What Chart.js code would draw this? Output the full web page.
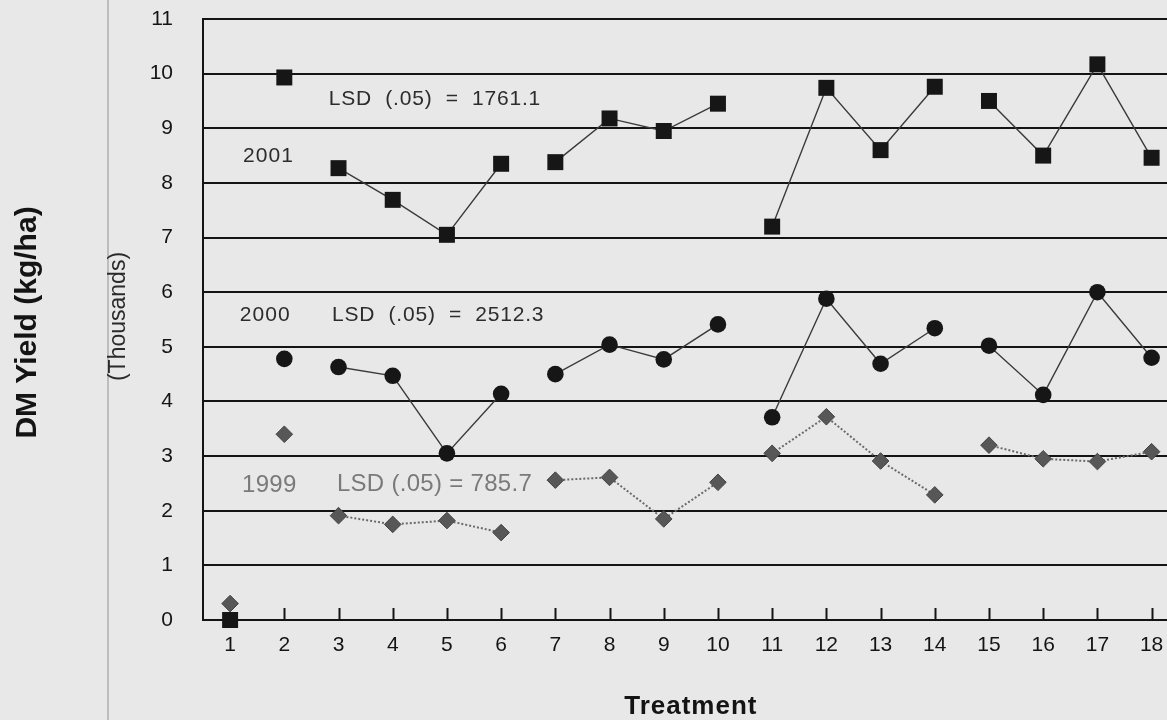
<!DOCTYPE html>
<html>
<head>
<meta charset="utf-8">
<title>DM Yield by Treatment</title>
<script src="https://cdn.jsdelivr.net/npm/chart.js@4.4.1/dist/chart.umd.min.js"></script>
<style>
  html, body { margin: 0; padding: 0; background: #e8e8e8; overflow: hidden; }
  #wrap { width: 1167px; height: 720px; overflow: hidden; }
  canvas { display: block; }
</style>
</head>
<body>
<div id="wrap"><canvas id="chart" width="1190" height="720"></canvas></div>
<script>
// Treatments along the x axis
const treatments = ['1','2','3','4','5','6','7','8','9','10','11','12','13','14','15','16','17','18'];

// Dry-matter yield, thousands of kg/ha
const yield2001 = [0, 9.93, 8.27, 7.69, 7.05, 8.35, 8.38, 9.18, 8.95, 9.45, 7.2, 9.74, 8.6, 9.76, 9.5, 8.5, 10.17, 8.46];
const yield2000 = [null, 4.78, 4.63, 4.47, 3.05, 4.14, 4.5, 5.04, 4.77, 5.41, 3.71, 5.88, 4.69, 5.34, 5.02, 4.12, 6.0, 4.8];
const yield1999 = [0.3, 3.4, 1.91, 1.75, 1.82, 1.6, 2.56, 2.61, 1.85, 2.52, 3.05, 3.72, 2.91, 2.29, 3.2, 2.95, 2.9, 3.08];

// Treatments sharing a block number are joined by a line
const trialBlock = [1, 2, 3, 3, 3, 3, 4, 4, 4, 4, 5, 5, 5, 5, 6, 6, 6, 6];

// Value axis ticks (thousands)
const yTicks = [0, 1, 2, 3, 4, 5, 6, 7, 8, 9, 10, 11];

// Year and LSD notes inside the plot
const noteText = ['2001', 'LSD  (.05)  =  1761.1', '2000', 'LSD  (.05)  =  2512.3', '1999', 'LSD (.05) = 785.7'];

const FONT = "'Liberation Sans', Arial, Helvetica, sans-serif";
const INK = '#141414';

// anchors of the notes, in treatment / value units
const noteAnchor = [[1.24, 8.48], [2.82, 9.54], [1.18, 5.57], [2.88, 5.57], [1.22, 2.47], [2.97, 2.49]];
const noteStyle = [
  { size: 21, color: '#2c2c2c', spacing: 1 },
  { size: 21, color: '#2c2c2c', spacing: 0.8 },
  { size: 21, color: '#2c2c2c', spacing: 1 },
  { size: 21, color: '#2c2c2c', spacing: 0.8 },
  { size: 24, color: '#7a7a7a', spacing: 0.3 },
  { size: 24, color: '#7a7a7a', spacing: 0.3 }
];

const joined = c => trialBlock[c.p0DataIndex] === trialBlock[c.p1DataIndex];
const hideBreaks = c => joined(c) ? undefined : 'rgba(0,0,0,0)';

const decor = {
  id: 'decor',
  beforeDraw(chart) {
    const ctx = chart.ctx;
    ctx.save();
    ctx.fillStyle = '#e8e8e8';
    ctx.fillRect(0, 0, chart.width, chart.height);
    // page edge line at the left of the sheet
    ctx.strokeStyle = '#bdbdbd';
    ctx.lineWidth = 2;
    ctx.beginPath();
    ctx.moveTo(108, 0);
    ctx.lineTo(108, chart.height);
    ctx.stroke();
    ctx.restore();
  },
  beforeDatasetsDraw(chart) {
    // short inward tick marks on the treatment axis
    const { ctx, chartArea, scales: { x } } = chart;
    ctx.save();
    ctx.strokeStyle = INK;
    ctx.lineWidth = 2;
    ctx.beginPath();
    for (let i = 1; i < treatments.length; i++) {
      const px = Math.round(x.getPixelForValue(i)) + 0.5;
      ctx.moveTo(px, chartArea.bottom);
      ctx.lineTo(px, chartArea.bottom - 12);
    }
    ctx.stroke();
    ctx.restore();
  },
  afterDraw(chart) {
    const { ctx, chartArea, scales: { x, y } } = chart;
    const x0 = x.getPixelForValue(0);
    const step = x.getPixelForValue(1) - x0;
    ctx.save();
    ctx.textAlign = 'left';
    ctx.textBaseline = 'middle';
    noteText.forEach((t, i) => {
      const s = noteStyle[i];
      const [tx, v] = noteAnchor[i];
      ctx.font = `${s.size}px ${FONT}`;
      ctx.fillStyle = s.color;
      ctx.letterSpacing = s.spacing + 'px';
      ctx.fillText(t, x0 + (tx - 1) * step, y.getPixelForValue(v));
    });
    ctx.letterSpacing = '0px';

    // axis titles
    const midY = (chartArea.top + chartArea.bottom) / 2;
    ctx.fillStyle = INK;
    ctx.textAlign = 'center';
    ctx.save();
    ctx.translate(28, midY + 3);
    ctx.rotate(-Math.PI / 2);
    ctx.font = `bold 30px ${FONT}`;
    ctx.fillText('DM Yield (kg/ha)', 0, 0);
    ctx.restore();

    ctx.save();
    ctx.translate(119, midY - 3);
    ctx.rotate(-Math.PI / 2);
    ctx.font = `23px ${FONT}`;
    ctx.fillStyle = '#2a2a2a';
    ctx.fillText('(Thousands)', 0, 0);
    ctx.restore();

    ctx.font = `bold 26px ${FONT}`;
    ctx.letterSpacing = '1px';
    ctx.fillText('Treatment', (chartArea.left + chartArea.right) / 2, 707);
    ctx.restore();
  }
};

new Chart(document.getElementById('chart'), {
  type: 'line',
  data: {
    labels: treatments,
    datasets: [
      {
        label: '2001',
        data: yield2001,
        pointStyle: 'rect',
        pointRadius: 11.3,
        pointBackgroundColor: '#161616',
        pointBorderWidth: 0,
        borderColor: '#3a3a3a',
        borderWidth: 1.4,
        clip: false,
        segment: { borderColor: hideBreaks }
      },
      {
        label: '2000',
        data: yield2000,
        pointStyle: 'circle',
        pointRadius: 8.3,
        pointBackgroundColor: '#161616',
        pointBorderWidth: 0,
        borderColor: '#3a3a3a',
        borderWidth: 1.4,
        clip: false,
        segment: { borderColor: hideBreaks }
      },
      {
        label: '1999',
        data: yield1999,
        pointStyle: 'rectRot',
        pointRadius: 8.3,
        pointBackgroundColor: '#575757',
        pointBorderColor: '#444',
        pointBorderWidth: 1,
        borderColor: '#6a6a6a',
        borderWidth: 2,
        borderDash: [2, 2],
        clip: false,
        segment: { borderColor: hideBreaks }
      }
    ]
  },
  options: {
    responsive: false,
    animation: false,
    devicePixelRatio: 1,
    layout: { padding: { top: 19, right: 10, left: 0, bottom: 0 } },
    plugins: { legend: { display: false }, tooltip: { enabled: false } },
    elements: { line: { tension: 0 } },
    scales: {
      x: {
        type: 'category',
        offset: true,
        grid: { display: false, drawTicks: false },
        border: { display: true, color: INK, width: 2 },
        ticks: {
          padding: 13,
          color: INK,
          font: { family: FONT, size: 21 },
          maxRotation: 0,
          autoSkip: false
        },
        afterFit(s) { s.height = 100; }
      },
      y: {
        min: yTicks[0],
        max: yTicks[yTicks.length - 1],
        afterBuildTicks(s) { s.ticks = yTicks.map(v => ({ value: v })); },
        grid: { color: INK, lineWidth: 2, drawTicks: true, tickLength: 30, tickColor: 'rgba(0,0,0,0)' },
        border: { color: INK, width: 2 },
        ticks: {
          padding: 0,
          color: INK,
          font: { family: FONT, size: 21 }
        },
        afterFit(s) { s.width = 203; }
      }
    }
  },
  plugins: [decor]
});
</script>
</body>
</html>
